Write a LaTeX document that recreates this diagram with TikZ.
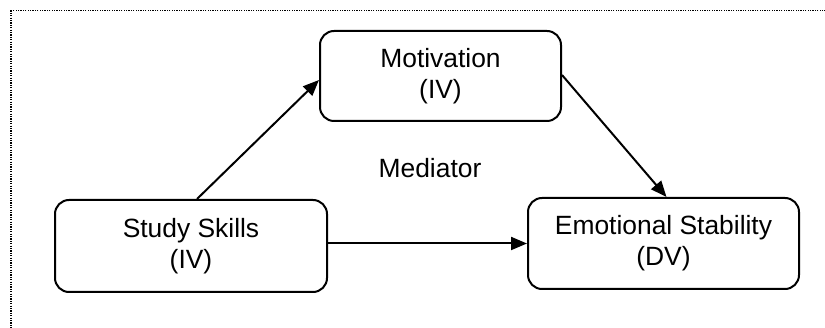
\documentclass[tikz,border=0pt]{standalone}
\usepackage{fontspec}
\setmainfont{Liberation Sans}
\usetikzlibrary{arrows.meta,calc}
\begin{document}
\begin{tikzpicture}[x=1pt,y=-1pt,
  box/.style={draw,line width=2pt,rounded corners=14pt,align=center,inner sep=0pt,
    font=\fontsize{26.4}{31}\selectfont},
  arr/.style={line width=2pt,-{Triangle[length=16pt,width=13pt]}},
  lbl/.style={font=\fontsize{26.4}{31}\selectfont,inner sep=0pt}]
\useasboundingbox (0,0) rectangle (825,328);
\clip (0,0) rectangle (825,328);
\draw[line width=1.2pt,dash pattern=on 1.2pt off 1.2pt] (11,10.5) rectangle (840,340);
\node[box,minimum width=241pt,minimum height=90pt] (M) at (440.5,76) {Motivation\\(IV)};
\node[box,minimum width=272pt,minimum height=92pt] (S) at (191,246) {Study Skills\\(IV)};
\node[box,minimum width=271pt,minimum height=91pt] (E) at (663.5,243.5) {Emotional Stability\\(DV)};
\node[lbl,anchor=base] (Med) at (430,178) {Mediator};
\draw[arr] ([xshift=6pt]S.north) -- ([yshift=-4pt]M.west);
\draw[arr] ([yshift=1pt]M.east) -- ([xshift=3pt]E.north);
\draw[arr] (S.east |- E.west) -- (E.west);
\end{tikzpicture}
\end{document}
